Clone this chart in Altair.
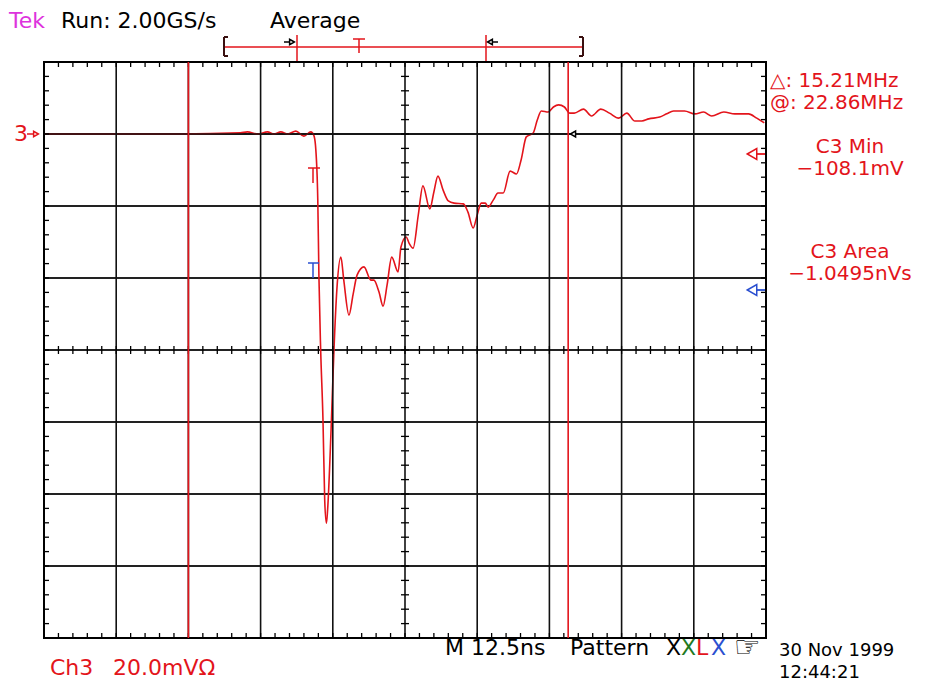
import altair as alt
import pandas as pd

# ---- waveform (Ch3), time in ns from left edge, voltage in mV relative to Ch3 ground ----
time_ns = [0, 23.6, 34.0, 35.2, 37.0, 38.7, 39.8, 41.0, 42.2, 43.6, 45.0, 46.2, 46.7, 47.0,
           47.4, 47.6, 47.9, 48.3, 48.6, 48.9, 49.1, 49.7, 50.2, 50.7, 51.4, 51.9, 52.8, 53.5,
           54.2, 55.4, 56.6, 57.1, 58.0, 58.7, 59.4, 60.2, 61.3, 61.8, 62.7, 63.2, 63.9, 64.8,
           65.6, 66.8, 67.5, 68.2, 69.1, 70.0, 71.0, 72.6, 73.4, 74.3, 75.0, 75.7, 76.4, 76.9,
           77.8, 78.6, 79.5, 80.7, 81.8, 82.6, 83.5, 84.7, 85.4, 86.1, 87.3, 88.2, 89.1, 90.1,
           91.0, 91.8, 93.4, 94.8, 96.4, 97.9, 99.5, 100.9, 102.3, 103.5, 104.7, 106.6, 107.8,
           109.0, 110.9, 112.7, 114.2, 115.6, 117.7, 119.6, 122.0, 123.4, 124.7]
volt_mv = [0, 0, 0.3, 0.6, 0, 0.6, 0, 0.6, 0, 0.8, -0.6, 0.6, -0.3, -3.1,
           -18.3, -39.7, -60, -79.4, -101.7, -108.1, -104.4, -82.2, -60, -43.3, -34.2, -40.6,
           -50.3, -44.7, -39.2, -36.9, -40.6, -40.6, -43.9, -47.8, -41.9, -34.2, -38.3, -31.4,
           -28.6, -30.3, -31.7, -22.5, -14.4, -20.8, -16.1, -11.7, -15.6, -18.6, -19.2, -19.4,
           -21.7, -26.1, -22.5, -19.2, -19.2, -20.3, -18.3, -16.4, -16.4, -10.3, -11.1, -7.2,
           -0.8, 0.3, 3.9, 6.4, 6.1, 7.5, 8.1, 7.5, 5.8, 5.8, 6.9, 5.0, 6.9, 5.8, 4.4, 5.8,
           3.6, 3.6, 4.2, 4.7, 5.6, 6.4, 6.4, 5.6, 6.1, 5.0, 6.1, 5.6, 5.6, 4.4, 3.1]

# ---- graticule ----
grid_t = [12.5, 25.0, 37.5, 50.0, 62.5, 75.0, 87.5, 100.0, 112.5]
grid_v = [0, -20, -40, -60, -80, -100, -120]
ground_v = [0]
minor_t = [i * 2.5 for i in range(1, 50)]
minor_v = [20 - i * 4 for i in range(1, 40)]
cursor_t = [25.0, 90.75]

# ---- labels ----
hdr_tek = "Tek"
hdr_run = "Run: 2.00GS/s"
hdr_mode = "Average"
meas_lines = ["△: 15.21MHz", "@: 22.86MHz"]
meas_min = ["C3 Min", "−108.1mV"]
meas_area = ["C3 Area", "−1.0495nVs"]
ch_label = ["Ch3", "20.0mVΩ"]
time_label = "M 12.5ns"
pattern_label = "Pattern"
pattern_letters = ["X", "X", "L", "X"]
date_lines = ["30 Nov 1999", "12:44:21"]

W, H = 722, 576
RED = "#e3141b"
BLUE = "#2a4fd0"
GREEN = "#1f7a1f"
MAG = "#dd33dd"
FONT = "DejaVu Sans"
FS = 22

xs = alt.Scale(domain=[0, 125], nice=False, zero=False)
ys = alt.Scale(domain=[-140, 20], nice=False, zero=False)
one = pd.DataFrame({"k": [0]})

wave = pd.DataFrame({"t": time_ns, "v": volt_mv})
gt = pd.DataFrame({"t": grid_t})
gv = pd.DataFrame({"v": grid_v})
g0 = pd.DataFrame({"v": ground_v})
mt = pd.DataFrame({"t": minor_t})
mv = pd.DataFrame({"v": minor_v})
cur = pd.DataFrame({"t": cursor_t})

X = lambda: alt.X("t:Q", scale=xs, axis=None)
Y = lambda: alt.Y("v:Q", scale=ys, axis=None)


def txt(s, x, y, color="black", align="left", size=FS, baseline="middle"):
    return alt.Chart(one).mark_text(text=s, align=align, baseline=baseline, fontSize=size,
                                    font=FONT, color=color).encode(
        x=alt.value(x), y=alt.value(y))


def seg(x1, y1, x2, y2, color="black", w=1.5):
    return alt.Chart(one).mark_rule(color=color, strokeWidth=w).encode(
        x=alt.value(x1), y=alt.value(y1), x2=alt.value(x2), y2=alt.value(y2))


def tri(x, y, shape, color, size=45, filled=False):
    return alt.Chart(one).mark_point(shape=shape, size=size, filled=filled, color=color,
                                     fill="white" if not filled else color,
                                     strokeWidth=1.5, opacity=1).encode(
        x=alt.value(x), y=alt.value(y))


layers = []
# horizontal grid lines (below the trace)
layers.append(alt.Chart(gv).mark_rule(color="#222", strokeWidth=1.8).encode(y=Y()))
# waveform
layers.append(alt.Chart(wave).mark_line(color=RED, strokeWidth=1.6, interpolate="monotone",
                                        clip=True).encode(x=X(), y=Y()))
# ground line drawn semi-transparent over the trace (dark red where they coincide)
layers.append(alt.Chart(g0).mark_rule(color="#111", strokeWidth=1.8, opacity=0.7).encode(y=Y()))
# vertical grid lines (above the trace)
layers.append(alt.Chart(gt).mark_rule(color="#111", strokeWidth=1.6).encode(x=X()))
# border
layers.append(alt.Chart(one).mark_rect(fill=None, stroke="black", strokeWidth=2).encode(
    x=alt.value(0), x2=alt.value(W), y=alt.value(0), y2=alt.value(H)))
# minor ticks
layers.append(alt.Chart(mt).mark_rule(color="black", strokeWidth=1.3).encode(
    x=X(), y=alt.value(0), y2=alt.value(5)))
layers.append(alt.Chart(mt).mark_rule(color="black", strokeWidth=1.3).encode(
    x=X(), y=alt.value(H - 5), y2=alt.value(H)))
layers.append(alt.Chart(mt).mark_rule(color="black", strokeWidth=1.3).encode(
    x=X(), y=alt.value(H / 2 - 4), y2=alt.value(H / 2 + 4)))
layers.append(alt.Chart(mv).mark_rule(color="black", strokeWidth=1.3).encode(
    y=Y(), x=alt.value(0), x2=alt.value(5)))
layers.append(alt.Chart(mv).mark_rule(color="black", strokeWidth=1.3).encode(
    y=Y(), x=alt.value(W - 5), x2=alt.value(W)))
layers.append(alt.Chart(mv).mark_rule(color="black", strokeWidth=1.3).encode(
    y=Y(), x=alt.value(W / 2 - 4), x2=alt.value(W / 2 + 4)))
# cursors
layers.append(alt.Chart(cur).mark_rule(color=RED, strokeWidth=1.6).encode(x=X()))

# trigger markers on screen
layers += [seg(264, 106, 276, 106, RED), seg(269, 106, 269, 121, RED),
           seg(264, 201, 275, 201, BLUE), seg(269, 201, 269, 216, BLUE)]
# ground marker "3->"
layers += [txt("3", -30, 72, RED), seg(-17, 72, -11, 72, RED), tri(-8, 72, "triangle-right", RED, 30)]
# trigger level arrow on the graticule
layers += [tri(529, 72, "triangle-left", "black", 35)]
# right-side measurement arrows
layers += [seg(712, 92, 721, 92, RED, 1.8), tri(708, 92, "triangle-left", RED, 120),
           seg(712, 228, 721, 228, BLUE, 1.8), tri(708, 228, "triangle-left", BLUE, 120)]

# record bracket at top
layers += [seg(179, -15, 539, -15, RED),
           seg(180, -25, 180, -6, "#3a1010", 2), seg(180, -25, 184, -25, "#3a1010", 2),
           seg(180, -6, 184, -6, "#3a1010", 2),
           seg(539, -25, 539, -6, "#3a1010", 2), seg(535, -25, 539, -25, "#3a1010", 2),
           seg(535, -6, 539, -6, "#3a1010", 2),
           seg(253, -27, 253, -1, RED), seg(442, -27, 442, -1, RED),
           seg(309, -23, 321, -23, RED), seg(315, -23, 315, -9, RED),
           seg(240, -20, 246, -20, "black"), tri(248, -20, "triangle-right", "black", 30),
           tri(446, -20, "triangle-left", "black", 30), seg(448, -20, 454, -20, "black")]

# header texts
layers += [txt(hdr_tek, -35, -41, MAG), txt(hdr_run, 17, -41), txt(hdr_mode, 226, -41)]
# right measurements
RS = 20
layers += [txt(meas_lines[0], 726, 19, RED, size=RS), txt(meas_lines[1], 726, 41, RED, size=RS),
           txt(meas_min[0], 806, 85, RED, "center", RS), txt(meas_min[1], 806, 107, RED, "center", RS),
           txt(meas_area[0], 806, 190, RED, "center", RS), txt(meas_area[1], 806, 212, RED, "center", RS)]
# bottom texts
layers += [txt(time_label, 401, 586), txt(pattern_label, 526, 586),
           txt(pattern_letters[0], 622, 586), txt(pattern_letters[1], 637, 586, GREEN),
           txt(pattern_letters[2], 652, 586, RED), txt(pattern_letters[3], 667, 586, BLUE),
           txt("☞", 690, 586, "black", "left", 30),
           txt(date_lines[0], 735, 594, size=18, baseline="alphabetic"),
           txt(date_lines[1], 735, 615.5, size=18, baseline="alphabetic"),
           txt(ch_label[0], 6, 606, RED), txt(ch_label[1], 69, 606, RED)]

chart = alt.layer(*layers).properties(
    width=W, height=H,
    autosize=alt.AutoSizeParams(type="none"),
    padding={"left": 36, "top": 54, "right": 152, "bottom": 44},
).configure_view(stroke=None).configure(background="white")

chart.save("out.html", embed_options={"renderer": "svg", "actions": False})
